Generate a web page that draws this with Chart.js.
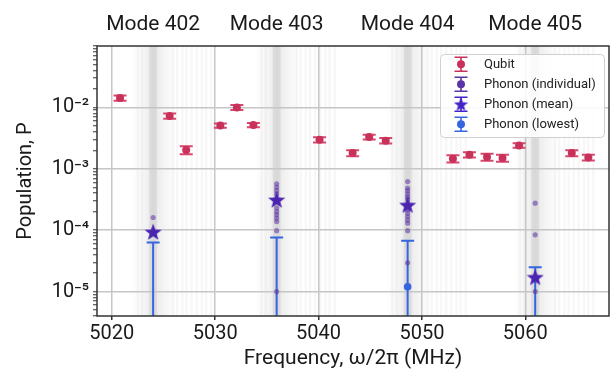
<!DOCTYPE html>
<html><head><meta charset="utf-8">
<script src="https://cdn.jsdelivr.net/npm/chart.js@4/dist/chart.umd.min.js"></script>
<style>html,body{margin:0;padding:0;background:#fff;}canvas{display:block}</style>
</head><body>
<canvas id="c" width="612" height="376"></canvas>
<script>
// ---------- data ----------
const xTickValues = [5020, 5030, 5040, 5050, 5060];
const yTickValues = [1e-5, 1e-4, 1e-3, 1e-2];
const yTickLabels = ['10⁻⁵', '10⁻⁴', '10⁻³', '10⁻²'];
const modeFreq = [5024.0, 5035.95, 5048.62, 5060.96];
const modeLabels = ['Mode 402', 'Mode 403', 'Mode 404', 'Mode 405'];

const qubitFreq = [5020.8, 5025.6, 5027.2, 5030.5, 5032.1, 5033.7, 5040.1, 5043.3, 5044.9,
                   5046.5, 5053.0, 5054.6, 5056.3, 5057.8, 5059.4, 5064.5, 5066.1];
const qubitPop = [0.0142, 0.00724, 0.00202, 0.00508, 0.0100, 0.00516, 0.00297, 0.00180, 0.00329,
                  0.00287, 0.00146, 0.00169, 0.00155, 0.00150, 0.00240, 0.00180, 0.00153];
const qubitErr = [0.0014, 0.0007, 0.0003, 0.0004, 0.0009, 0.0004, 0.0003, 0.0002, 0.0003,
                  0.0003, 0.0002, 0.00017, 0.0002, 0.0002, 0.0002, 0.0002, 0.00017];

const indivFreq = [5024.0,
  5035.95, 5035.95, 5035.95, 5035.95, 5035.95, 5035.95, 5035.95, 5035.95, 5035.95, 5035.95, 5035.95, 5035.95,
  5048.62, 5048.62, 5048.62, 5048.62, 5048.62, 5048.62, 5048.62, 5048.62, 5048.62, 5048.62, 5048.62, 5048.62, 5048.62,
  5060.96, 5060.96, 5060.96];
const indivPop = [1.61e-4,
  5.7e-4, 5.0e-4, 4.4e-4, 3.9e-4, 3.0e-4, 2.3e-4, 2.0e-4, 1.78e-4, 1.57e-4, 1.38e-4, 9.8e-5, 1.0e-5,
  6.2e-4, 4.85e-4, 4.4e-4, 3.9e-4, 3.5e-4, 3.2e-4, 2.14e-4, 1.89e-4, 1.67e-4, 1.47e-4, 1.3e-4, 9.8e-5, 2.95e-5,
  2.75e-4, 8.4e-5, 1.0e-5];

const meanFreq = [5024.0, 5035.95, 5048.62, 5060.96];
const meanPop = [9.3e-5, 3.1e-4, 2.55e-4, 1.7e-5];

const lowestFreq = [5024.0, 5035.95, 5048.62, 5060.96];
const lowestPop = [2e-6, 2e-6, 1.2e-5, 2e-6];
const lowestErr = [6.1e-5, 7.4e-5, 5.5e-5, 2.3e-5];

// ---------- styles ----------
const FONT = "Roboto, 'Noto Sans', 'DejaVu Sans', sans-serif";
const C_QUBIT = '#c8325a', C_QUBIT_ERR = '#d9476f';
const C_INDIV = 'rgba(88,48,160,0.55)';
const C_MEAN = '#4a24b0';
const C_LOW = '#3566e0';

function makeStar(r, color) {
  const cv = document.createElement('canvas');
  const s = Math.ceil(r * 2 + 2);
  cv.width = s; cv.height = s;
  const g = cv.getContext('2d');
  g.fillStyle = color;
  g.beginPath();
  for (let i = 0; i < 10; i++) {
    const rr = i % 2 === 0 ? r : r * 0.42;
    const a = -Math.PI / 2 + i * Math.PI / 5;
    const px = s / 2 + rr * Math.cos(a), py = s / 2 + 0.5 + rr * Math.sin(a);
    i === 0 ? g.moveTo(px, py) : g.lineTo(px, py);
  }
  g.closePath(); g.fill();
  return cv;
}
const starBig = makeStar(9, C_MEAN);
const starSmall = makeStar(7.5, '#4424c8');

const pts = (xs, ys) => xs.map((x, i) => ({x, y: ys[i]}));

// ---------- plugins ----------
const bandPlugin = {
  id: 'bands',
  beforeDraw(chart) {
    const {ctx, chartArea: a, scales: {x}} = chart;
    ctx.save();
    ctx.beginPath(); ctx.rect(a.left, a.top, a.right - a.left, a.bottom - a.top); ctx.clip();
    const comb = [-1.5, -1.1, 1.9, 2.3, 2.8, 3.2, 3.7, 4.2, 4.7, 5.1, 5.6];
    modeFreq.forEach(f => {
      const l = x.getPixelForValue(f - 2.1), r = x.getPixelForValue(f + 2.4), c = x.getPixelForValue(f);
      const g = ctx.createLinearGradient(l, 0, r, 0);
      const t = (c - l) / (r - l);
      g.addColorStop(0, 'rgba(0,0,0,0)');
      g.addColorStop(t * 0.5, 'rgba(0,0,0,0.03)');
      g.addColorStop(t, 'rgba(0,0,0,0.09)');
      g.addColorStop(t + (1 - t) * 0.5, 'rgba(0,0,0,0.035)');
      g.addColorStop(1, 'rgba(0,0,0,0)');
      ctx.fillStyle = g;
      ctx.fillRect(l, a.top, r - l, a.bottom - a.top);
      ctx.fillStyle = 'rgba(0,0,0,0.07)';
      ctx.fillRect(c - 4, a.top, 8, a.bottom - a.top);
      ctx.fillStyle = 'rgba(0,0,0,0.03)';
      comb.forEach(o => {
        const p = x.getPixelForValue(f + o);
        ctx.fillRect(p - 1, a.top, 2.5, a.bottom - a.top);
      });
    });
    ctx.restore();
  }
};

const errorBarPlugin = {
  id: 'errbars',
  beforeDatasetDraw(chart, args) {
    const ds = chart.data.datasets[args.index];
    if (!ds.errors) return;
    const {ctx, chartArea: a, scales: {x, y}} = chart;
    ctx.save();
    ctx.beginPath(); ctx.rect(a.left, a.top, a.right - a.left, a.bottom - a.top); ctx.clip();
    ctx.strokeStyle = ds.errColor; ctx.lineWidth = ds.errWidth;
    ds.data.forEach((p, i) => {
      const e = ds.errors[i];
      const px = x.getPixelForValue(p.x);
      const hi = y.getPixelForValue(p.y + e);
      const lo = (p.y - e) > 0 ? y.getPixelForValue(p.y - e) : a.bottom + 20;
      const c = ds.capHalf;
      ctx.beginPath();
      ctx.moveTo(px, hi); ctx.lineTo(px, lo);
      ctx.moveTo(px - c, hi); ctx.lineTo(px + c, hi);
      ctx.moveTo(px - c, lo); ctx.lineTo(px + c, lo);
      ctx.stroke();
    });
    ctx.restore();
  }
};

const framePlugin = {
  id: 'frame',
  afterDatasetsDraw(chart) {
    const {ctx, chartArea: a} = chart;
    ctx.save();
    ctx.strokeStyle = '#333'; ctx.lineWidth = 1.5;
    ctx.strokeRect(a.left, a.top, a.right - a.left, a.bottom - a.top);
    ctx.restore();
  }
};

const legendPlugin = {
  id: 'boxlegend',
  afterDraw(chart) {
    const ctx = chart.ctx;
    const bx = 440, by = 54, bw = 164, bh = 83;
    ctx.save();
    ctx.fillStyle = 'rgba(255,255,255,0.85)';
    ctx.strokeStyle = '#d0d0d0'; ctx.lineWidth = 1;
    ctx.beginPath(); ctx.roundRect(bx + 0.5, by + 0.5, bw, bh, 4); ctx.fill(); ctx.stroke();
    const rows = [64.3, 84.3, 104.3, 124.3];
    const ix = 461, tx = 484;
    chart.data.datasets.forEach((ds, k) => {
      const yy = rows[k];
      ctx.strokeStyle = ds.legendColor; ctx.lineWidth = 1.6;
      ctx.beginPath();
      ctx.moveTo(ix, yy - 7); ctx.lineTo(ix, yy + 7);
      ctx.moveTo(ix - 6.5, yy - 7); ctx.lineTo(ix + 6.5, yy - 7);
      ctx.moveTo(ix - 6.5, yy + 7); ctx.lineTo(ix + 6.5, yy + 7);
      ctx.stroke();
      if (ds.legendStar) {
        ctx.drawImage(starSmall, ix - starSmall.width / 2, yy - starSmall.height / 2);
      } else {
        ctx.fillStyle = ds.legendColor;
        ctx.beginPath(); ctx.arc(ix, yy, 4, 0, Math.PI * 2); ctx.fill();
      }
      ctx.fillStyle = '#222';
      ctx.font = '13px ' + FONT;
      ctx.textBaseline = 'middle';
      ctx.fillText(ds.label, tx, yy);
    });
    ctx.restore();
  }
};

// ---------- chart ----------
const tickFont = {family: FONT, size: 20};
const noPad = s => { s.paddingLeft = 0; s.paddingRight = 0; };
new Chart(document.getElementById('c'), {
  type: 'scatter',
  data: {
    datasets: [
      {label: 'Qubit', data: pts(qubitFreq, qubitPop), errors: qubitErr,
       errColor: C_QUBIT_ERR, errWidth: 2, capHalf: 6.5, legendColor: C_QUBIT,
       pointRadius: 4, pointBackgroundColor: C_QUBIT, pointBorderColor: C_QUBIT, pointBorderWidth: 0, order: 1},
      {label: 'Phonon (individual)', data: pts(indivFreq, indivPop), legendColor: '#5a34a8',
       pointRadius: 2.6, pointBackgroundColor: C_INDIV, pointBorderWidth: 0, order: 3},
      {label: 'Phonon (mean)', data: pts(meanFreq, meanPop), legendColor: '#4424c8', legendStar: true,
       pointStyle: starBig, pointRadius: 9, order: 2},
      {label: 'Phonon (lowest)', data: pts(lowestFreq, lowestPop), errors: lowestErr,
       errColor: C_LOW, errWidth: 2, capHalf: 6.5, legendColor: C_LOW,
       pointRadius: 3.8, pointBackgroundColor: C_LOW, pointBorderWidth: 0, order: 4}
    ]
  },
  options: {
    responsive: false, animation: false, devicePixelRatio: 1,
    layout: {autoPadding: false, padding: {left: 0, right: 3, top: 0, bottom: 0}},
    plugins: {legend: {display: false}, tooltip: {enabled: false}},
    scales: {
      x: {
        type: 'linear', position: 'bottom', min: 5018.57, max: 5068.1,
        afterBuildTicks: s => { s.ticks = xTickValues.map(v => ({value: v})); },
        afterFit: s => { s.height = 60; noPad(s); },
        ticks: {font: tickFont, color: '#1a1a1a', padding: 2, maxRotation: 0, callback: v => String(v)},
        grid: {color: '#c6c6c6', lineWidth: 1.5, tickColor: '#333', tickLength: 4},
        border: {display: false},
        title: {display: true, text: 'Frequency, ω/2π (MHz)', color: '#1a1a1a',
                font: {family: FONT, size: 21}, padding: {top: 0, bottom: 5}}
      },
      x2: {
        type: 'linear', position: 'top', min: 5018.57, max: 5068.1,
        afterBuildTicks: s => { s.ticks = modeFreq.map(v => ({value: v})); },
        afterFit: s => { s.height = 46; noPad(s); },
        ticks: {font: {family: FONT, size: 21}, color: '#1a1a1a', padding: 9, maxRotation: 0,
                callback: (v, i) => modeLabels[i]},
        grid: {display: false, drawTicks: false},
        border: {display: false}
      },
      y: {
        type: 'logarithmic', position: 'left', min: 4e-6, max: 0.1,
        afterFit: s => { s.width = 97; s.paddingTop = 0; s.paddingBottom = 0; },
        afterBuildTicks: s => {
          const t = [];
          for (let e = -6; e <= -1; e++) for (let m = 1; m <= 9; m++) {
            const v = m * Math.pow(10, e);
            if (v >= s.min * 0.999 && v <= s.max * 1.001) t.push({value: v, major: m === 1});
          }
          s.ticks = t;
        },
        ticks: {autoSkip: false, font: tickFont, color: '#1a1a1a', padding: 4,
                callback: v => { const i = yTickValues.findIndex(t => Math.abs(t - v) / t < 1e-6); return i >= 0 ? yTickLabels[i] : ''; }},
        grid: {color: c => (c.tick && yTickValues.some(t => Math.abs(t - c.tick.value) / t < 1e-6)) ? '#c6c6c6' : 'rgba(0,0,0,0)',
               lineWidth: 1.5, tickColor: '#333', tickLength: 4, tickWidth: 1},
        border: {display: false},
        title: {display: true, text: 'Population, P', color: '#1a1a1a',
                font: {family: FONT, size: 20}, padding: {top: 14, bottom: 0}}
      }
    }
  },
  plugins: [bandPlugin, errorBarPlugin, framePlugin, legendPlugin]
});
</script>
</body></html>
